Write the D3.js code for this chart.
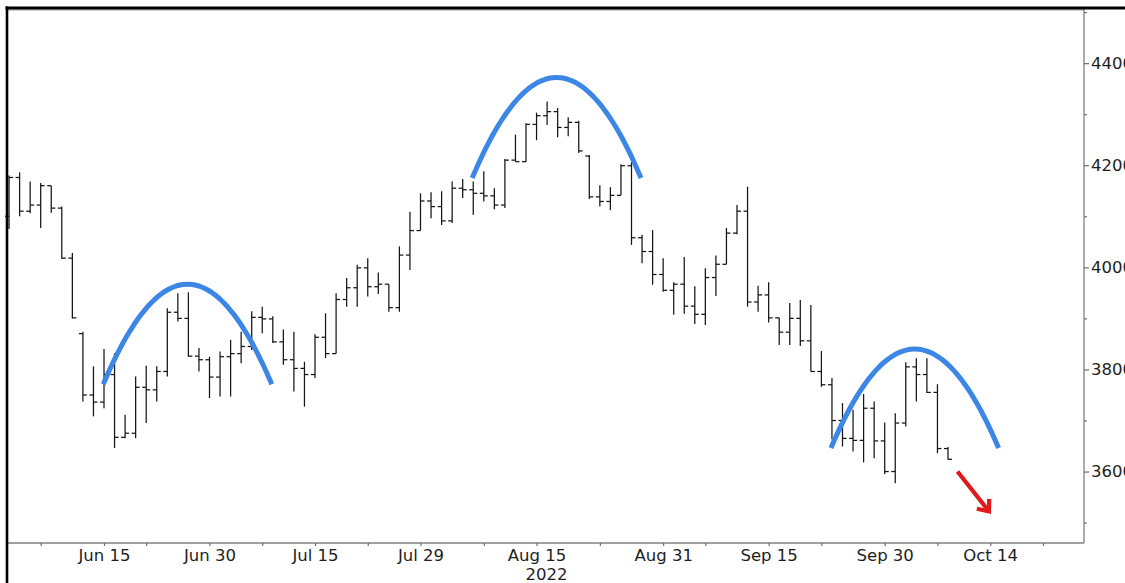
<!DOCTYPE html>
<html>
<head>
<meta charset="utf-8">
<script src="https://cdnjs.cloudflare.com/ajax/libs/d3/7.8.5/d3.min.js"></script>
<style>
	html, body { margin: 0; padding: 0; background: #fff; overflow: hidden; }
	svg { display: block; }
	.axis text { font-family: "DejaVu Sans", sans-serif; font-size: 16.5px; fill: #1e1e1e; }
</style>
</head>
<body>
<script>
// Trading days, one bar per day
var dates = [
	"2022-06-02","2022-06-03","2022-06-06","2022-06-07","2022-06-08","2022-06-09","2022-06-10",
	"2022-06-13","2022-06-14","2022-06-15","2022-06-16","2022-06-17",
	"2022-06-21","2022-06-22","2022-06-23","2022-06-24",
	"2022-06-27","2022-06-28","2022-06-29","2022-06-30","2022-07-01",
	"2022-07-05","2022-07-06","2022-07-07","2022-07-08",
	"2022-07-11","2022-07-12","2022-07-13","2022-07-14","2022-07-15",
	"2022-07-18","2022-07-19","2022-07-20","2022-07-21","2022-07-22",
	"2022-07-25","2022-07-26","2022-07-27","2022-07-28","2022-07-29",
	"2022-08-01","2022-08-02","2022-08-03","2022-08-04","2022-08-05",
	"2022-08-08","2022-08-09","2022-08-10","2022-08-11","2022-08-12",
	"2022-08-15","2022-08-16","2022-08-17","2022-08-18","2022-08-19",
	"2022-08-22","2022-08-23","2022-08-24","2022-08-25","2022-08-26",
	"2022-08-29","2022-08-30","2022-08-31","2022-09-01","2022-09-02",
	"2022-09-06","2022-09-07","2022-09-08","2022-09-09",
	"2022-09-12","2022-09-13","2022-09-14","2022-09-15","2022-09-16",
	"2022-09-19","2022-09-20","2022-09-21","2022-09-22","2022-09-23",
	"2022-09-26","2022-09-27","2022-09-28","2022-09-29","2022-09-30",
	"2022-10-03","2022-10-04","2022-10-05","2022-10-06","2022-10-07",
	"2022-10-10"
];
// empty days at the right end of the axis
var futureDates = [
	"2022-10-11","2022-10-12","2022-10-13","2022-10-14",
	"2022-10-17","2022-10-18","2022-10-19","2022-10-20","2022-10-21",
	"2022-10-24","2022-10-25","2022-10-26","2022-10-27"
];

var opens = [
	4100, 4176, 4110, 4122, 4160, 4116, 4018,
	3870, 3750, 3736, 3790, 3667,
	3675, 3765, 3760, 3796,
	3912, 3900, 3826, 3819, 3785,
	3825, 3831, 3845, 3902,
	3899, 3854, 3819, 3802, 3790,
	3863, 3831, 3937, 3960, 3999,
	3962, 3967, 3921, 4024, 4072,
	4130, 4119, 4091, 4155, 4152,
	4145, 4140, 4122, 4210, 4207,
	4280, 4297, 4305, 4274, 4284,
	4218, 4138, 4129, 4141, 4199,
	4058, 4031, 3986, 3955, 3967,
	3924, 3908, 3980, 4006,
	4067, 4110, 3932, 3946, 3901,
	3873, 3900, 3856, 3796, 3770,
	3700, 3665, 3661, 3724, 3660,
	3600, 3695, 3805, 3790, 3755,
	3645
];
var highs = [
	4180, 4186, 4168, 4165, 4160, 4119, 4028,
	3874, 3806, 3840, 3832, 3711,
	3786, 3807, 3806, 3920,
	3949, 3951, 3842, 3825, 3835,
	3858, 3874, 3914, 3923,
	3904, 3878, 3874, 3815, 3869,
	3910, 3949, 3979, 4005, 4018,
	3990, 3967, 4041, 4109, 4145,
	4147, 4149, 4168, 4173, 4168,
	4188, 4155, 4212, 4260, 4282,
	4303, 4325, 4312, 4294, 4287,
	4220, 4161, 4157, 4202, 4207,
	4064, 4073, 4018, 3971, 4020,
	3963, 3998, 4023, 4077,
	4122, 4158, 3964, 3971, 3901,
	3930, 3936, 3926, 3836, 3783,
	3734, 3721, 3752, 3737, 3696,
	3714, 3814, 3822, 3822, 3771,
	3648
];
var lows = [
	4075, 4100, 4106, 4077, 4107, 4017, 3900,
	3737, 3708, 3724, 3646, 3665,
	3665, 3695, 3737, 3786,
	3894, 3825, 3796, 3744, 3747,
	3747, 3812, 3838, 3871,
	3852, 3809, 3757, 3727, 3783,
	3822, 3831, 3923, 3923, 3943,
	3948, 3913, 3913, 3995, 4072,
	4096, 4083, 4087, 4136, 4103,
	4129, 4114, 4116, 4207, 4207,
	4249, 4279, 4255, 4257, 4224,
	4134, 4119, 4112, 4141, 4044,
	4008, 3966, 3952, 3907, 3909,
	3889, 3887, 3944, 4006,
	4065, 3923, 3913, 3892, 3848,
	3848, 3846, 3796, 3766, 3663,
	3649, 3639, 3618, 3626, 3595,
	3577, 3688, 3737, 3754, 3636,
	3623
];
var closes = [
	4176, 4110, 4122, 4160, 4116, 4018, 3901,
	3750, 3736, 3790, 3667, 3675,
	3765, 3760, 3796, 3912,
	3900, 3826, 3819, 3785, 3825,
	3831, 3845, 3902, 3899,
	3854, 3819, 3802, 3790, 3863,
	3831, 3937, 3960, 3999, 3962,
	3967, 3921, 4024, 4072, 4130,
	4119, 4091, 4155, 4152, 4145,
	4140, 4122, 4210, 4207, 4280,
	4297, 4305, 4274, 4284, 4228,
	4138, 4129, 4141, 4199, 4058,
	4031, 3986, 3955, 3967, 3924,
	3908, 3980, 4006, 4067,
	4110, 3932, 3946, 3901, 3873,
	3900, 3856, 3796, 3770, 3700,
	3665, 3661, 3724, 3660, 3600,
	3695, 3805, 3790, 3755, 3645,
	3624
];

// x axis labels
var tickDates = ["2022-06-15","2022-06-30","2022-07-15","2022-07-29","2022-08-15","2022-08-31","2022-09-15","2022-09-30","2022-10-14"];
var tickLabels = ["Jun 15","Jun 30","Jul 15","Jul 29","Aug 15","Aug 31","Sep 15","Sep 30","Oct 14"];
var minorTickDates = ["2022-06-07","2022-06-22","2022-07-08","2022-07-22","2022-08-08","2022-08-23","2022-09-07","2022-09-22","2022-10-07","2022-10-21"];
var yearLabel = "2022";

// y axis
var yTicks = [3600, 3800, 4000, 4200, 4400];
var yMinorTicks = [3500, 3700, 3900, 4100, 4300, 4500];

// hand drawn arcs: [from index, to index, value at ends, value at top]
var arcs = [
	[8.93, 24.9, 3771, 3967],
	[43.9, 59.9, 4175, 4372],
	[77.9, 93.8, 3646, 3840]
];
// red arrow: [from index, from value, to index, to value]
var arrow = [89.9, 3600, 93.0, 3519];

function ready() {
	var width = 1125,
			height = 583,
			plotLeft = 8,
			plotRight = 1084,
			plotTop = 8,
			plotBottom = 543,
			allDates = dates.concat(futureDates),
			step = 10.55,
			x0 = 9.05;

	var svg = d3.select('body')
		.append('svg')
		.attr('width', width)
		.attr('height', height);

	svg.append('rect').attr('width', width).attr('height', height).attr('fill', '#fff');

	var x = d3.scalePoint()
		.domain(allDates)
		.range([x0, x0 + step * (allDates.length - 1)]);
	// same as x but for fractional positions of the drawings
	var xi = d3.scaleLinear()
		.domain([0, allDates.length - 1])
		.range(x.range());
	var y = d3.scaleLinear()
		.domain([3460, 4508])
		.range([plotBottom, plotTop]);

	// frame
	svg.append('line').attr('x1', plotLeft).attr('x2', plotRight).attr('y1', 10).attr('y2', 10)
		.attr('stroke', '#9a9a9a').attr('stroke-width', 1);
	svg.append('line').attr('x1', plotRight).attr('x2', plotRight).attr('y1', 9).attr('y2', plotBottom)
		.attr('stroke', '#808080').attr('stroke-width', 1.3);
	svg.append('line').attr('x1', plotLeft).attr('x2', plotRight).attr('y1', plotBottom).attr('y2', plotBottom)
		.attr('stroke', '#808080').attr('stroke-width', 1.3);

	// y axis on the right (labels run past the edge, as in the original)
	svg.append('g')
		.attr('class', 'axis')
		.attr('transform', 'translate(' + plotRight + ',0)')
		.call(d3.axisRight(y).tickValues(yTicks).tickSize(5).tickPadding(2).tickFormat(d3.format('d')));
	svg.append('g')
		.attr('class', 'axis')
		.attr('transform', 'translate(' + plotRight + ',0)')
		.call(d3.axisRight(y).tickValues(yMinorTicks).tickSize(3).tickFormat(''));

	// x axis
	svg.append('g')
		.attr('class', 'axis')
		.attr('transform', 'translate(0,' + plotBottom + ')')
		.call(d3.axisBottom(x).tickValues(tickDates).tickSize(3).tickPadding(3)
			.tickFormat(function(d) { return tickLabels[tickDates.indexOf(d)]; }));
	svg.append('g')
		.attr('class', 'axis')
		.attr('transform', 'translate(0,' + plotBottom + ')')
		.call(d3.axisBottom(x).tickValues(minorTickDates).tickSize(3).tickFormat(''));

	svg.selectAll('.axis .domain').remove();
	svg.selectAll('.axis .tick line').attr('stroke', '#6e6e6e').attr('stroke-width', 1.2);

	svg.append('text')
		.attr('x', x('2022-08-15') + 10)
		.attr('y', 580)
		.attr('text-anchor', 'middle')
		.style('font-family', '"DejaVu Sans", sans-serif')
		.style('font-size', '16.5px')
		.style('fill', '#1e1e1e')
		.text(yearLabel);

	// OHLC bars
	var bars = svg.append('g')
		.attr('stroke', '#151515')
		.attr('stroke-width', 1.25);

	bars.selectAll('g.bar')
		.data(dates)
		.enter()
		.append('g')
		.attr('class', 'bar')
		.each(function(d, i) {
			var g = d3.select(this),
					cx = x(d);
			g.append('line').attr('x1', cx).attr('x2', cx).attr('y1', y(highs[i])).attr('y2', y(lows[i]));
			g.append('line').attr('x1', cx - 4).attr('x2', cx).attr('y1', y(opens[i])).attr('y2', y(opens[i]));
			g.append('line').attr('x1', cx).attr('x2', cx + 4).attr('y1', y(closes[i])).attr('y2', y(closes[i]));
		});

	// blue arcs (parabola through the two ends and the top)
	var arcLine = d3.line()
		.x(function(p) { return xi(p[0]); })
		.y(function(p) { return y(p[1]); })
		.curve(d3.curveBasis);

	arcs.forEach(function(a) {
		var pts = [];
		for (var k = 0; k <= 40; k++) {
			var t = k / 40,
					u = 2 * t - 1;
			pts.push([a[0] + (a[1] - a[0]) * t, a[2] + (a[3] - a[2]) * (1 - u * u)]);
		}
		svg.append('path')
			.attr('d', arcLine(pts))
			.attr('fill', 'none')
			.attr('stroke', '#3c87e6')
			.attr('stroke-width', 5)
			.attr('stroke-linecap', 'butt');
	});

	// red arrow
	var ax1 = xi(arrow[0]), ay1 = y(arrow[1]),
			ax2 = xi(arrow[2]), ay2 = y(arrow[3]),
			ang = Math.atan2(ay2 - ay1, ax2 - ax1),
			headLen = 14;
	var redArrow = svg.append('g')
		.attr('stroke', '#e2191b')
		.attr('stroke-width', 4.2)
		.attr('fill', 'none');
	redArrow.append('line').attr('x1', ax1).attr('y1', ay1).attr('x2', ax2 - 2 * Math.cos(ang)).attr('y2', ay2 - 2 * Math.sin(ang));
	redArrow.append('path')
		.attr('stroke-linejoin', 'miter')
		.attr('d', 'M' + (ax2 - headLen * Math.cos(ang - 0.6)) + ',' + (ay2 - headLen * Math.sin(ang - 0.6)) +
			'L' + (ax2 - 2 * Math.cos(ang)) + ',' + (ay2 - 2 * Math.sin(ang)) +
			'L' + (ax2 - headLen * Math.cos(ang + 0.6)) + ',' + (ay2 - headLen * Math.sin(ang + 0.6)));

	// black border (top and left)
	svg.append('line').attr('x1', 5.5).attr('x2', width).attr('y1', 8).attr('y2', 8)
		.attr('stroke', '#000').attr('stroke-width', 3);
	svg.append('line').attr('x1', 7).attr('x2', 7).attr('y1', 6.5).attr('y2', height)
		.attr('stroke', '#000').attr('stroke-width', 2.6);
}

window.onload = function() {
	ready();
};
</script>
</body>
</html>
